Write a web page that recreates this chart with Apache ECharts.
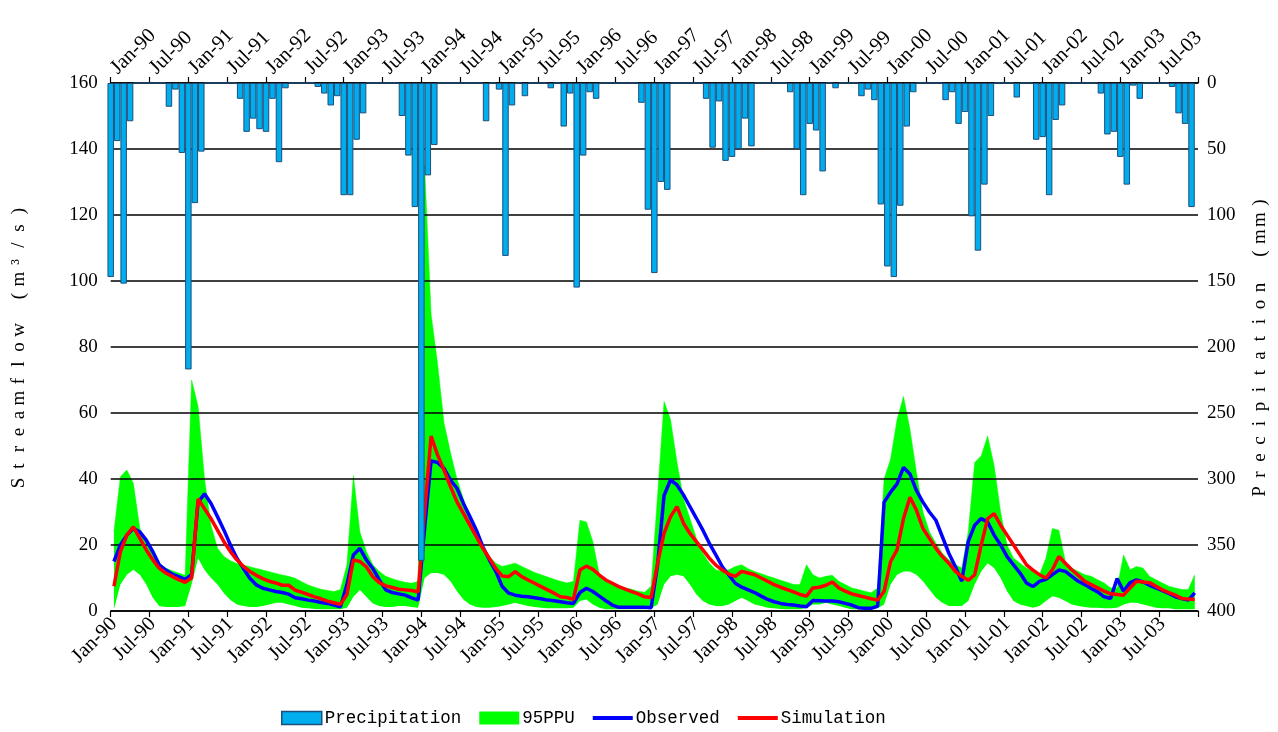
<!DOCTYPE html>
<html><head><meta charset="utf-8">
<script src="https://cdn.jsdelivr.net/npm/echarts@6.0.0/dist/echarts.min.js"></script>
<style>html,body{margin:0;padding:0;background:#fff}#c{width:1278px;height:732px}</style>
</head><body><div id="c"></div>
<script>
// ---- data (monthly, Jan-1990 .. Dec-2003) ----
const monthNames = ['Jan','Feb','Mar','Apr','May','Jun','Jul','Aug','Sep','Oct','Nov','Dec'];
const yearLabels = ['90','91','92','93','94','95','96','97','98','99','00','01','02','03'];

const precipitation = [
147,44,152,29,0,0,0,0,0,18,5,53,
217,91,52,0,0,0,0,0,12,37,27,35,
37,12,60,4,0,0,0,0,3,8,17,10,
85,85,43,23,0,0,0,0,0,25,55,94,
362,70,47,0,0,0,0,0,0,0,29,0,
5,131,17,0,10,0,0,0,4,0,33,8,
155,55,7,12,0,0,0,0,0,0,15,96,
144,75,81,0,0,0,0,0,12,49,14,59,
56,50,27,48,0,0,0,0,0,7,50,85,
31,36,67,0,4,0,0,0,10,5,13,92,
139,147,93,33,7,0,0,0,0,13,7,31,
22,101,127,77,25,0,0,0,11,0,0,43,
41,85,28,17,0,0,0,0,0,8,39,37,
56,77,2,12,0,0,0,0,3,23,31,94];

const observed = [
15,20,23,25,24,21.5,18,14,12.4,11.2,10.4,9.6,
11,33,35.5,32.6,28.6,24.5,20,16,12.9,9.9,7.9,6.9,
6.4,5.9,5.6,5.1,4.0,3.7,3.3,3.0,2.6,2.3,1.8,1.3,
8,17,19,15.5,12.9,9.4,6.4,5.6,5.2,4.8,4,3.3,
25,45.5,45,43.2,39.7,37.2,32.6,28.6,24.5,19.5,15.5,12,
7.4,5.4,4.8,4.5,4.3,4.0,3.7,3.3,3.1,2.8,2.5,2.3,
5.6,6.9,5.9,4.5,3.1,1.8,1.1,1.1,1.1,1.1,1.1,1.0,
14,35,39.7,38.2,35.2,31.6,28.1,24.5,20.5,17,13.4,10.9,
8.4,7.2,6.4,5.6,4.5,3.5,2.8,2.3,2.0,1.8,1.5,1.3,
3.2,3.1,3.0,3.0,2.8,2.3,1.8,1.0,0.8,0.8,1.5,33,
36,38.5,43.5,41.5,36.5,33,30,27.5,22.5,17.5,13.5,9,
21,26,28,27,23,20,16.5,14,11.5,8.5,7.4,9,
9.6,11,12.4,12,10.5,9,8,6.8,5.8,4.3,3.8,9.8,
6,8.6,9.4,8.8,7.8,7,6.2,5.3,4.3,3.8,3.3,5.5];

const simulation = [
7.5,18,23,25.5,22,18.5,15.5,13,11.5,10.5,9.5,8.7,
10,34,31,28,24.5,21,18,15.5,13.5,12,10.8,9.8,
9,8.5,7.8,7.8,6.3,5.7,5.0,4.3,3.7,3.0,2.5,2.0,
5,15.5,15,13.4,10.4,8.6,7.6,7.1,6.6,6.4,6.2,5.8,
30,53,47.3,42.7,37.7,33.1,29.6,26,22.5,19,16,12.9,
10.6,10.4,11.9,10.4,9.4,8.4,7.4,6.4,5.4,4.3,4.1,3.5,
12.4,13.6,12.6,10.9,9.4,8.4,7.4,6.6,5.9,5.2,4.3,4.1,
14.4,23.5,28.6,31.6,26.6,23.5,21,18.5,16,13.9,12.4,11.2,
10.5,12,11.5,11,10,9,8,7.2,6.5,5.8,5,4.5,
7,7.2,7.8,8.8,7,6,5.2,4.7,4.2,3.7,3.3,6,
15,18.5,28,34.5,30.5,25,22,19,16.5,14.5,12,10.5,
9.3,11,20,28,29.5,26,23,20,17,14,12.4,11,
10,12.5,16.5,14.5,12.5,10.8,9,8,7,6,5.2,5,
4.8,7,9,8.8,8.6,7.5,6.4,5.6,4.8,3.8,3.6,3.5];

const ppuUpper = [
24,40.7,42.7,38.7,25,21,17.5,14.5,13,12.2,11.5,10.8,
70,62,40,26,19,16.5,15.2,14.4,13.9,13.4,12.9,12.4,
11.9,11.4,10.9,10.5,9.9,8.9,7.9,7.2,6.6,6.2,5.9,6.5,
14,41,24,18,14,12,10.5,9.8,9.2,8.7,8.4,9,
135,90,75,57,48,40,34,28,23.5,19.5,16.5,14.5,
13.5,14,14.5,13.5,12.6,11.7,11,10.3,9.6,9,8.5,9,
27.5,27,21,11,9.5,8.5,7.5,7,6.6,6,5.7,7.5,
35,63.5,58,45,34,28,22,17.5,14.5,12.5,12,12.5,
13.5,14,12.8,12,11.3,10.6,10,9.3,8.7,8,8,14,
11,10,10.5,10.8,9,8,7,6.5,6,5.5,7,40,
46,58,65,55,42,30,24,20.5,17.5,15.5,14,13,
24,45,47,53,44,30,20,16,14.5,13,12,11,
16,25,24.5,15,13,12,11,10.5,9.5,8.5,7,7,
17,12.5,13.5,13,10.5,9.5,8.5,7.5,7,6.5,6.5,11];

const ppuLower = [
0.5,8,11,12.5,11,8,4,1.5,1.2,1.2,1.2,1.5,
8,16,12.4,10,8,5.4,3.3,2,1.5,1.2,1.2,1.5,
2,2.5,2.5,2,1.5,1,0.8,0.6,0.5,0.5,0.5,0.5,
1,4.3,6.4,4.3,2.3,1.5,1.2,1.2,1.5,1.5,1.2,1,
10,11.5,11.5,11,9,6,3.5,2,1.2,1,1,1.2,
1.5,2,2.5,2,1.5,1.2,1,0.8,0.8,0.8,0.8,1,
3,3.5,2,1,0.5,0.5,0.5,0.5,0.5,0.5,0.5,0.8,
2,8,10.5,11,10.5,8,5,3,2,1.5,1.5,2,
3,4,3,2,1.5,1,0.8,0.6,0.5,0.5,0.5,1,
2,2,2.5,2,1.5,1,0.5,0.5,0.5,0.5,0.8,2,
8,11,12,12,11,9,6.5,4,2.5,1.5,1.5,1.5,
3,8,12,14.5,13,10,6,3,2,1.5,1,1.5,
3,4.5,4,3,2,1.5,1.2,1,1,0.8,0.8,1,
2,2.5,2.5,2,1.5,1,0.8,0.8,0.5,0.5,0.5,0.5];

const streamflowTicks = {min: 0, max: 160, interval: 20};
const precipTicks = {min: 0, max: 400, interval: 50};
const streamflowTitle = 'Streamflow (m³/s)';
const precipTitle = 'Precipitation (mm)';

// ---- derived structures for the library ----
const months = [];
yearLabels.forEach(y => monthNames.forEach(m => months.push(m + '-' + y)));
const monthsBars = months.concat(['']);          // date-style axis for the bars: one extra boundary at the end
const ppuWidth = ppuUpper.map((u, i) => +(u - ppuLower[i]).toFixed(2));

const serifFont = "'Liberation Serif', 'DejaVu Serif', serif";
const monoFont = "'Liberation Mono', 'DejaVu Sans Mono', monospace";
// evenly pitched title letters (rich text, one fixed-width cell per character)
const pitched = s => s.split('').map(ch => '{c|' + ch + '}').join('');
const pitchedStyle = {rich: {c: {fontFamily: serifFont, fontSize: 19, color: '#000', width: 17, align: 'center'}}};

const chart = echarts.init(document.getElementById('c'), null, {renderer: 'canvas'});
const dateLabelBottom = {interval: 5, rotate: 45, fontFamily: serifFont, fontSize: 20.5, color: '#000', margin: 10};
const dateLabelTop = {interval: 5, rotate: 45, fontFamily: serifFont, fontSize: 20.5, color: '#000', margin: 12};
const dateAxisLine = {show: true, lineStyle: {color: '#000', width: 1.5}};
const dateAxisTick = {show: true, interval: 5, length: 6, lineStyle: {color: '#000', width: 1.2}};

chart.setOption({
  animation: false,
  backgroundColor: '#fff',
  grid: {left: 110.7, right: 75.3, top: 83, bottom: 121, containLabel: false},
  legend: {
    left: 281, top: 709, padding: 0, itemGap: 18, itemWidth: 40, itemHeight: 13,
    textStyle: {fontFamily: monoFont, fontSize: 17.5, color: '#000', padding: [0, 0, 0, -2]},
    data: [
      {name: 'Precipitation', icon: 'rect', itemStyle: {color: '#00AEEF', borderColor: '#1F4E79', borderWidth: 1.5}},
      {name: '95PPU', icon: 'rect', itemStyle: {color: '#00FF00', borderWidth: 0}},
      {name: 'Observed', icon: 'path://M0,0H40V4H0Z', itemStyle: {color: '#0000FF', borderWidth: 0}},
      {name: 'Simulation', icon: 'path://M0,0H40V4H0Z', itemStyle: {color: '#FF0000', borderWidth: 0}}
    ]
  },
  xAxis: [
    {
      type: 'category', position: 'bottom', data: months, boundaryGap: true,
      axisLine: dateAxisLine, axisTick: dateAxisTick, axisLabel: dateLabelBottom,
      splitLine: {show: false}
    },
    {
      type: 'category', position: 'top', data: months, boundaryGap: true,
      axisLine: dateAxisLine, axisTick: dateAxisTick, axisLabel: dateLabelTop,
      splitLine: {show: false}
    },
    {
      type: 'category', position: 'top', data: monthsBars, boundaryGap: false, show: false
    }
  ],
  yAxis: [
    {
      type: 'value', position: 'left',
      min: streamflowTicks.min, max: streamflowTicks.max, interval: streamflowTicks.interval,
      name: pitched(streamflowTitle),
      nameLocation: 'middle', nameRotate: 90, nameGap: 82,
      nameTextStyle: pitchedStyle,
      axisLine: {show: false}, axisTick: {show: false},
      axisLabel: {fontFamily: serifFont, fontSize: 19, color: '#000', margin: 13},
      splitLine: {show: true, lineStyle: {color: '#000', width: 1.5}}
    },
    {
      type: 'value', position: 'right', inverse: true,
      min: precipTicks.min, max: precipTicks.max, interval: precipTicks.interval,
      name: pitched(precipTitle),
      nameLocation: 'middle', nameRotate: 90, nameGap: 53,
      nameTextStyle: pitchedStyle,
      axisLine: {show: false}, axisTick: {show: false},
      axisLabel: {fontFamily: serifFont, fontSize: 19, color: '#000', margin: 9},
      splitLine: {show: false}
    }
  ],
  series: [
    {
      name: 'ppuBase', type: 'line', xAxisIndex: 0, yAxisIndex: 0, stack: 'ppu',
      data: ppuLower, symbol: 'none', silent: true, z: -2,
      lineStyle: {width: 0, opacity: 0}
    },
    {
      name: '95PPU', type: 'line', xAxisIndex: 0, yAxisIndex: 0, stack: 'ppu',
      data: ppuWidth, symbol: 'none', color: '#00FF00', z: -2,
      lineStyle: {width: 0.5, color: '#00FF00'},
      areaStyle: {color: '#00FF00', opacity: 1}
    },
    {
      name: 'Observed', type: 'line', xAxisIndex: 0, yAxisIndex: 0,
      data: observed, symbol: 'none', color: '#0000FF', z: 3,
      lineStyle: {width: 3.5, color: '#0000FF'}
    },
    {
      name: 'Simulation', type: 'line', xAxisIndex: 0, yAxisIndex: 0,
      data: simulation, symbol: 'none', color: '#FF0000', z: 4,
      lineStyle: {width: 3.5, color: '#FF0000'}
    },
    {
      name: 'Precipitation', type: 'bar', xAxisIndex: 2, yAxisIndex: 1,
      data: precipitation, barCategoryGap: '0%', clip: false, z: 5,
      itemStyle: {color: '#00AEEF', borderColor: '#1F4E79', borderWidth: 1}
    }
  ]
});
</script></body></html>
